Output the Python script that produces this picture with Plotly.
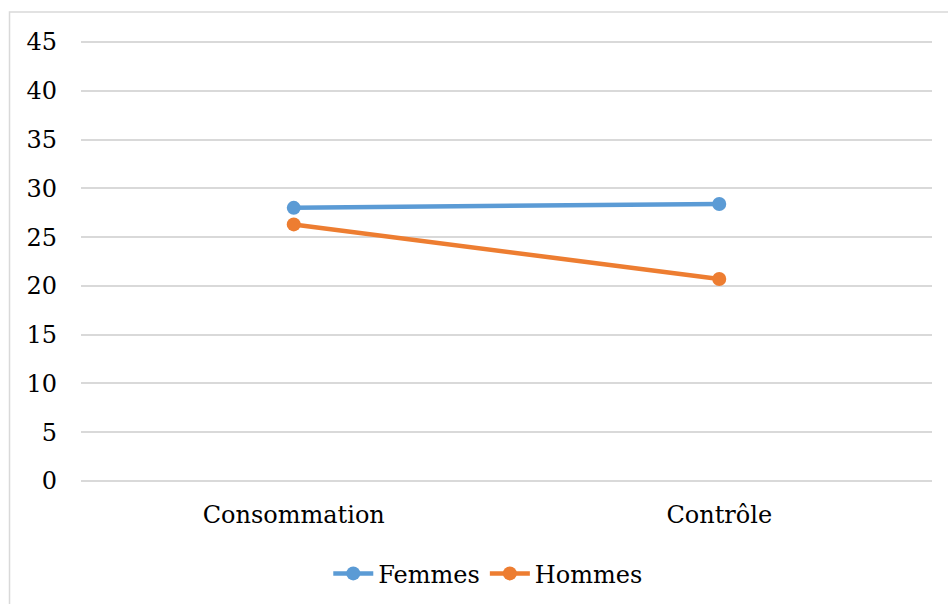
import plotly.graph_objects as go

categories = ["Consommation", "Contrôle"]
femmes = [28.0, 28.4]
hommes = [26.3, 20.7]
y_ticks = [0, 5, 10, 15, 20, 25, 30, 35, 40, 45]

BLUE = "#5B9BD5"
ORANGE = "#ED7D31"
GRID = "#D9D9D9"
FONT = dict(family="DejaVu Serif", size=24, color="#000000")

fig = go.Figure()
fig.add_trace(go.Scatter(
    x=categories, y=femmes, name="Femmes", mode="lines+markers",
    line=dict(color=BLUE, width=4.5), marker=dict(color=BLUE, size=14),
))
fig.add_trace(go.Scatter(
    x=categories, y=hommes, name="Hommes", mode="lines+markers",
    line=dict(color=ORANGE, width=4.5), marker=dict(color=ORANGE, size=14),
))

# light frame around the chart area
fig.add_shape(type="rect", xref="paper", yref="paper",
              x0=-0.084, y0=-0.5, x1=1.2, y1=1.063,
              line=dict(color=GRID, width=1.5), layer="below")

fig.update_layout(
    width=948, height=604,
    margin=dict(l=81, r=16, t=40, b=121, autoexpand=False),
    paper_bgcolor="white", plot_bgcolor="white",
    font=FONT,
    showlegend=True,
    legend=dict(orientation="h", x=0.478, xanchor="center", y=-0.205, yanchor="middle",
                font=FONT, itemwidth=40, tracegroupgap=0),
    xaxis=dict(type="category", range=[-0.5, 1.5], showgrid=False, zeroline=False,
               showline=False, ticks="", ticklabelstandoff=15),
    yaxis=dict(range=[-0.2, 45.2], tickvals=y_ticks, showgrid=True, gridcolor=GRID,
               gridwidth=2, zeroline=False, showline=False, ticks="",
               ticklabelstandoff=23),
)

fig.write_html("out.html")
